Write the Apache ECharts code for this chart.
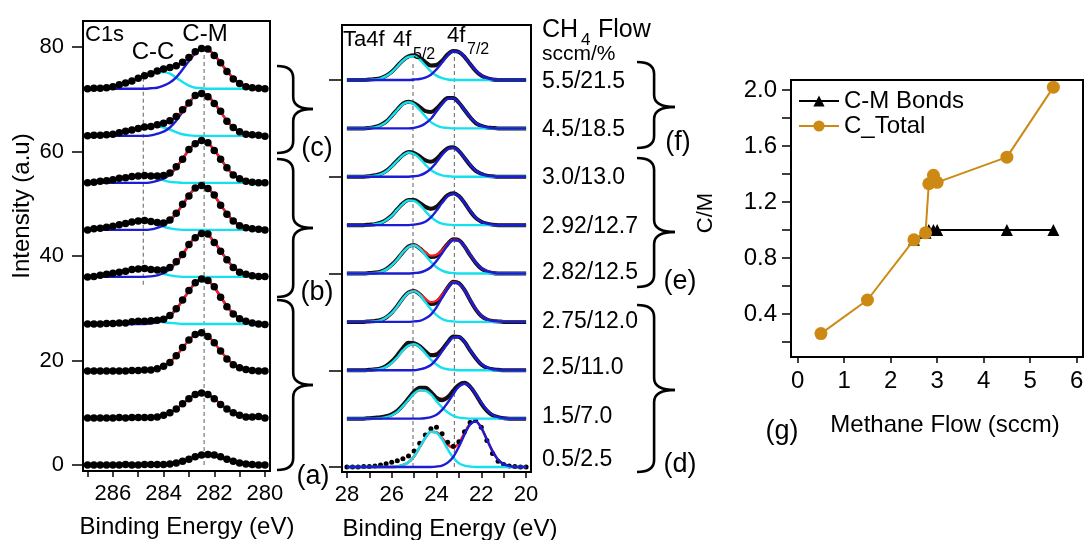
<!DOCTYPE html>
<html>
<head>
<meta charset="utf-8">
<script src="https://cdn.jsdelivr.net/npm/echarts@6.0.0/dist/echarts.min.js"></script>
<style>
html,body{margin:0;padding:0;background:#fff;}
#chart{width:1084px;height:540px;}
</style>
</head>
<body>
<div id="chart"></div>
<script>
// ---------------- DATA ----------------
// C1s panel: binding energy grid (eV)
const c1sEnergy = [287,286.75,286.5,286.25,286,285.75,285.5,285.25,285,284.75,284.5,284.25,284,283.75,283.5,283.25,283,282.75,282.5,282.25,282,281.75,281.5,281.25,281,280.75,280.5,280.25,280];
// vertical stacking offset of each C1s spectrum (top to bottom)
const c1sOffset = [72,63,54,45,36,27,18,9,0];
// measured C1s points (intensity above each baseline)
const c1sData = [
 [0.0,0.1,0.1,0.2,0.4,0.8,1.1,1.5,2.0,2.5,2.9,3.4,3.8,4.1,4.4,5.1,6.0,7.1,7.7,7.6,6.4,5.0,3.3,1.9,1.0,0.4,0.2,0.1,0.0],
 [0.0,0.1,0.1,0.2,0.3,0.6,0.9,1.1,1.4,1.7,1.8,2.1,2.4,2.9,3.7,5.0,6.3,7.7,8.1,7.5,6.2,4.7,2.8,1.6,0.8,0.3,0.2,0.1,-0.1],
 [0.0,0.1,0.3,0.4,0.6,0.9,1.0,1.2,1.3,1.4,1.3,1.3,1.4,1.9,3.1,4.5,6.4,7.5,8.1,7.7,6.2,4.5,2.9,1.5,0.8,0.3,0.1,0.0,0.0],
 [0.0,0.2,0.3,0.5,0.7,1.0,1.2,1.5,1.7,1.8,1.6,1.4,1.3,1.9,3.2,4.9,6.5,8.0,8.5,7.9,6.7,4.7,3.0,1.7,0.8,0.4,0.2,0.1,0.0],
 [0.0,0.1,0.3,0.5,0.7,0.9,1.1,1.4,1.5,1.6,1.4,1.3,1.3,1.8,2.9,4.3,6.2,7.5,8.3,8.2,6.6,4.9,3.3,1.8,0.9,0.5,0.2,0.1,0.1],
 [0.0,0.0,0.0,0.1,0.1,0.2,0.2,0.4,0.5,0.5,0.6,0.7,0.9,1.6,2.9,4.6,6.4,7.9,8.6,8.3,7.1,5.1,3.3,1.9,1.0,0.5,0.2,0.0,-0.1],
 [0,0,0,0,0,0,0,0.1,0.1,0.2,0.2,0.4,0.9,1.6,2.9,4.5,5.9,7.0,7.3,6.6,5.4,3.8,2.3,1.2,0.6,0.3,0.1,0.0,0.0],
 [0,0,0,0,0,0.1,0,0.1,0.1,0.1,0.1,0.2,0.5,1.0,1.7,2.7,3.7,4.5,4.8,4.5,3.7,2.6,1.7,1.0,0.5,0.2,0.2,0.3,0.0],
 [0,0,0,0,0,0,0.1,0,0,0.1,0.1,0.1,0.1,0.2,0.4,0.7,1.1,1.6,1.9,2.0,1.9,1.6,1.1,0.7,0.4,0.2,0.1,0.0,0.0]
];
// C-M (carbide) fit component, every spectrum
const c1sCM = [
 [0,0,0,0,0,0,0,0,0,0,0.1,0.2,0.6,1.2,2.2,3.7,5.3,6.8,7.6,7.5,6.5,5.0,3.4,2.0,1.0,0.5,0.2,0.1,0],
 [0,0,0,0,0,0,0,0,0,0,0.1,0.4,0.8,1.6,2.9,4.6,6.3,7.6,8.1,7.6,6.3,4.6,2.9,1.6,0.8,0.4,0.1,0,0],
 [0,0,0,0,0,0,0,0,0,0,0.1,0.4,0.8,1.6,2.9,4.6,6.3,7.6,8.1,7.6,6.3,4.6,2.9,1.6,0.8,0.4,0.1,0,0],
 [0,0,0,0,0,0,0,0,0,0,0.1,0.4,0.9,1.7,3.1,4.8,6.6,8.0,8.5,8.0,6.6,4.8,3.1,1.7,0.9,0.4,0.1,0,0],
 [0,0,0,0,0,0,0,0,0,0,0.1,0.3,0.7,1.5,2.7,4.3,6.1,7.6,8.3,8.0,6.7,5.0,3.3,1.9,1.0,0.4,0.2,0.1,0],
 [0,0,0,0,0,0,0,0,0,0,0.1,0.3,0.7,1.5,2.8,4.5,6.3,7.8,8.6,8.3,7.0,5.2,3.4,2.0,1.0,0.4,0.2,0.1,0],
 [0,0,0,0,0,0,0,0,0,0,0.2,0.4,0.9,1.7,2.9,4.4,5.9,7.0,7.3,6.7,5.4,3.8,2.4,1.3,0.6,0.3,0.1,0,0],
 [0,0,0,0,0,0,0,0,0,0,0.1,0.2,0.5,1.0,1.7,2.7,3.7,4.5,4.8,4.5,3.7,2.7,1.7,1.0,0.5,0.2,0.1,0,0],
 [0,0,0,0,0,0,0,0,0,0,0,0,0.1,0.2,0.4,0.7,1.1,1.6,1.9,2.0,1.9,1.6,1.1,0.7,0.4,0.2,0.1,0,0]
];
// C-C fit component, top six spectra
const c1sCC = [
 [0.0,0.1,0.1,0.3,0.4,0.7,1.0,1.5,1.9,2.4,2.8,3.1,3.2,2.9,2.1,1.3,0.6,0.2,0.1,0,0,0,0,0,0,0,0,0,0],
 [0,0.1,0.1,0.2,0.4,0.6,0.8,1.1,1.4,1.6,1.7,1.8,1.6,1.2,0.7,0.3,0.1,0,0,0,0,0,0,0,0,0,0,0,0],
 [0.1,0.2,0.3,0.4,0.6,0.8,1.0,1.1,1.3,1.3,1.2,0.9,0.5,0.2,0.1,0,0,0,0,0,0,0,0,0,0,0,0,0,0],
 [0.1,0.2,0.3,0.5,0.7,1.0,1.2,1.4,1.6,1.6,1.4,1.1,0.6,0.3,0.1,0,0,0,0,0,0,0,0,0,0,0,0,0,0],
 [0.1,0.2,0.3,0.5,0.7,0.9,1.1,1.3,1.5,1.5,1.4,1.0,0.6,0.3,0.1,0,0,0,0,0,0,0,0,0,0,0,0,0,0],
 [0,0,0.1,0.1,0.2,0.2,0.3,0.4,0.4,0.5,0.5,0.5,0.3,0.2,0.1,0,0,0,0,0,0,0,0,0,0,0,0,0,0]
];
const c1sRefEnergy = [282.4, 284.8];           // C-M, C-C reference lines
const c1sRefSpan = [[0, 80], [34.5, 75.3]];
const c1sTickEnergy = [280,281,282,283,284,285,286,287];
const c1sLabelEnergy = [280,282,284,286];
const c1sIntensityTicks = [0,20,40,60,80];

// Ta4f panel
const taEnergy = [28,27.75,27.5,27.25,27,26.75,26.5,26.25,26,25.75,25.5,25.25,25,24.75,24.5,24.25,24,23.75,23.5,23.25,23,22.75,22.5,22.25,22,21.75,21.5,21.25,21,20.75,20.5,20.25,20];
const taOffset = [80,70,60,50,40,30,20,10,0];
const flowLabels = ['5.5/21.5','4.5/18.5','3.0/13.0','2.92/12.7','2.82/12.5','2.75/12.0','2.5/11.0','1.5/7.0','0.5/2.5'];
const taData = [
 [0,0,0,0,0.1,0.2,0.4,0.9,1.7,2.9,4.1,4.9,5.1,4.6,3.7,3.0,3.1,4.0,5.3,6.0,5.8,4.8,3.3,1.9,0.9,0.4,0.1,0,0,0,0,0,0],
 [0,0,0,0,0.1,0.3,0.7,1.4,2.6,3.9,5.1,5.5,5.2,4.4,3.6,3.4,4.1,5.3,6.3,6.3,5.3,3.8,2.3,1.1,0.5,0.2,0.1,0,0,0,0,0,0],
 [0,0,0,0,0.1,0.3,0.6,1.2,2.2,3.4,4.5,5.1,4.9,4.2,3.4,3.1,3.7,4.9,5.9,6.1,5.3,3.9,2.4,1.2,0.6,0.2,0.1,0,0,0,0,0,0],
 [0,0,0,0,0.1,0.2,0.5,1.1,2.0,3.3,4.5,5.2,5.2,4.6,3.8,3.4,3.8,5.0,6.2,6.6,6.0,4.6,2.9,1.5,0.7,0.3,0.1,0,0,0,0,0,0],
 [0,0,0,0,0.1,0.2,0.4,0.9,1.8,3.0,4.4,5.6,5.9,5.2,4.2,3.4,3.6,4.7,6.1,7.1,6.9,5.6,3.8,2.2,1.0,0.4,0.1,0,0,0,0,0,0],
 [0,0,0,0,0.1,0.2,0.4,0.9,1.9,3.3,4.9,6.1,6.4,5.7,4.5,3.7,4.0,5.4,7.1,8.3,8.0,6.6,4.5,2.6,1.2,0.5,0.2,0.1,0,0,0,0,0],
 [0,0,0,0,0.1,0.2,0.4,0.9,1.8,3.1,4.6,5.7,5.6,5.0,3.9,3.1,3.2,4.3,5.8,7.0,6.9,5.9,4.1,2.5,1.2,0.5,0.2,0.1,0,0,0,0,0],
 [0,0,0,0,0.1,0.2,0.3,0.5,0.9,1.6,2.8,4.2,5.6,6.4,6.4,5.5,4.3,3.8,4.4,5.8,7.0,7.4,6.6,5.0,3.1,1.6,0.7,0.3,0.1,0,0,0,0],
 [0,0,0,0.1,0.1,0.2,0.4,0.7,1.0,1.3,1.7,2.3,3.3,4.9,6.6,7.9,8.2,6.9,5.1,4.3,5.2,7.3,9.2,9.6,8.2,5.5,2.8,1.2,0.5,0.2,0.1,0,0]
];
// 4f5/2 component
const ta4f52 = [
 [0,0,0,0,0,0.1,0.3,0.8,1.6,2.8,4.0,4.8,4.9,4.2,3.0,1.8,0.9,0.4,0.1,0,0,0,0,0,0,0,0,0,0,0,0,0,0],
 [0,0,0,0,0.1,0.2,0.6,1.3,2.5,3.8,5.0,5.4,5.0,3.8,2.5,1.3,0.6,0.2,0.1,0,0,0,0,0,0,0,0,0,0,0,0,0,0],
 [0,0,0,0,0.1,0.2,0.5,1.1,2.1,3.3,4.4,5.0,4.7,3.8,2.5,1.4,0.7,0.3,0.1,0,0,0,0,0,0,0,0,0,0,0,0,0,0],
 [0,0,0,0,0,0.2,0.4,1.0,1.9,3.2,4.4,5.1,5.0,4.2,2.9,1.7,0.8,0.3,0.1,0,0,0,0,0,0,0,0,0,0,0,0,0,0],
 [0,0,0,0,0,0.1,0.3,0.8,1.7,2.9,4.4,5.5,5.8,5.1,3.8,2.4,1.3,0.6,0.2,0.1,0,0,0,0,0,0,0,0,0,0,0,0,0],
 [0,0,0,0,0,0.1,0.3,0.9,1.8,3.2,4.8,6.0,6.3,5.6,4.1,2.6,1.4,0.6,0.2,0.1,0,0,0,0,0,0,0,0,0,0,0,0,0],
 [0,0,0,0,0,0.1,0.3,0.7,1.5,2.7,4.1,5.1,5.4,4.8,3.5,2.2,1.2,0.5,0.2,0.1,0,0,0,0,0,0,0,0,0,0,0,0,0],
 [0,0,0,0,0,0,0.1,0.3,0.7,1.4,2.6,3.9,5.2,5.9,5.8,5.0,3.6,2.3,1.3,0.6,0.2,0.1,0,0,0,0,0,0,0,0,0,0,0],
 [0,0,0,0,0,0,0,0,0,0.1,0.4,1.0,2.2,4.1,6.0,7.3,7.1,5.7,3.7,1.9,0.8,0.3,0.1,0,0,0,0,0,0,0,0,0,0]
];
// 4f7/2 component
const ta4f72 = [
 [0,0,0,0,0,0,0,0,0,0,0,0,0.1,0.2,0.5,1.1,2.2,3.6,5.1,5.9,5.8,4.8,3.3,2.0,1.0,0.4,0.1,0,0,0,0,0,0],
 [0,0,0,0,0,0,0,0,0,0,0,0,0.1,0.4,1.0,2.0,3.5,5.0,6.1,6.2,5.3,3.8,2.3,1.2,0.5,0.2,0.1,0,0,0,0,0,0],
 [0,0,0,0,0,0,0,0,0,0,0,0,0.1,0.3,0.8,1.7,3.0,4.5,5.7,6.0,5.3,3.9,2.5,1.3,0.6,0.2,0.1,0,0,0,0,0,0],
 [0,0,0,0,0,0,0,0,0,0,0,0,0.1,0.3,0.7,1.6,3.0,4.6,6.0,6.5,6.0,4.6,3.0,1.6,0.7,0.3,0.1,0,0,0,0,0,0],
 [0,0,0,0,0,0,0,0,0,0,0,0,0.1,0.2,0.6,1.3,2.6,4.2,5.9,6.9,6.8,5.6,3.9,2.3,1.1,0.5,0.2,0,0,0,0,0,0],
 [0,0,0,0,0,0,0,0,0,0,0,0,0.1,0.2,0.7,1.5,3.0,5.0,6.9,8.1,7.9,6.6,4.6,2.7,1.3,0.5,0.2,0.1,0,0,0,0,0],
 [0,0,0,0,0,0,0,0,0,0,0,0,0,0.2,0.5,1.1,2.3,3.9,5.6,6.8,6.9,5.9,4.2,2.6,1.3,0.6,0.2,0.1,0,0,0,0,0],
 [0,0,0,0,0,0,0,0,0,0,0,0,0,0,0.1,0.3,0.8,1.8,3.3,5.1,6.6,7.2,6.6,5.1,3.3,1.8,0.8,0.3,0.1,0,0,0,0],
 [0,0,0,0,0,0,0,0,0,0,0,0,0,0,0,0,0.1,0.3,0.9,2.1,4.2,6.7,8.8,9.4,8.1,5.7,3.3,1.5,0.6,0.2,0,0,0]
];
const taRefEnergy = [25.05, 23.2];
const taRefSpan = [[0, 83.5], [0, 85.5]];
const taTickEnergy = [20,21,22,23,24,25,26,27,28];
const taLabelEnergy = [20,22,24,26,28];
const taIntensityTicks = [0,20,40,60,80];

// Panel (g)
const methaneFlow = [0.5,1.5,2.5,2.75,2.82,2.92,3.0,4.5,5.5];
const cmBonds     = [null,null,0.93,0.98,1.00,1.00,1.00,1.00,1.00];
const cTotal      = [0.26,0.50,0.93,0.98,1.33,1.39,1.34,1.52,2.02];
const gXTicks = [0,1,2,3,4,5,6];
const gYTicks = [0.2,0.4,0.6,0.8,1.0,1.2,1.4,1.6,1.8,2.0];
const gYLabels = [0.4,0.8,1.2,1.6,2.0];

// ---------------- STYLE / LAYOUT ----------------
const FONT = "'Liberation Sans', Arial, Helvetica, sans-serif";
const CYAN = '#14E0EE', BLUE = '#1C1CD4', RED = '#FF1E1E', ORANGE = '#CC8A14';
const dotOnlySpectra = [false,false,false,false,false,false,false,false,true];
const redOnTopSpectra = [false,false,false,false,true,true,false,false,false];

const chart = echarts.init(document.getElementById('chart'), null, {renderer:'canvas'});

function xAx(grid, min, max, ticks, labels, inverse, fs, margin) {
  return {gridIndex:grid, type:'value', min, max, inverse,
    axisLine:{show:true, onZero:false, lineStyle:{color:'#000', width:2}},
    axisTick:{show:true, inside:false, length:6, customValues:ticks, lineStyle:{color:'#000', width:1.5}},
    axisLabel:{show:true, customValues:labels, fontSize:fs, fontFamily:FONT, color:'#000', margin},
    splitLine:{show:false}};
}
function yAx(grid, min, max, ticks, labels, tickLen, fs, margin, fmt) {
  const ax = {gridIndex:grid, type:'value', min, max,
    axisLine:{show:true, onZero:false, lineStyle:{color:'#000', width:2}},
    axisTick:{show:true, inside:false, length:tickLen, customValues:ticks, lineStyle:{color:'#000', width:1.5}},
    axisLabel:{show: labels.length>0, customValues:labels.length ? labels : ticks, fontSize:fs, fontFamily:FONT, color:'#000', margin},
    splitLine:{show:false}};
  if (fmt) ax.axisLabel.formatter = fmt;
  return ax;
}
function curve(g, xs, vals, off, color, width, z) {
  return {type:'line', xAxisIndex:g, yAxisIndex:g, data: xs.map((x,j)=>[x, off + vals[j]]),
    symbol:'none', smooth:0.35, lineStyle:{color, width}, silent:true, z: z||2};
}
function dots(g, xs, vals, off, size, z) {
  return {type:'scatter', xAxisIndex:g, yAxisIndex:g, data: xs.map((x,j)=>[x, off + vals[j]]),
    symbol:'circle', symbolSize:size, itemStyle:{color:'#000', opacity:1}, silent:true, z: z||3};
}

const series = [];
// reference dashed lines
c1sRefEnergy.forEach((e,k)=>series.push({type:'line', xAxisIndex:0, yAxisIndex:0,
  data:[[e,c1sRefSpan[k][0]],[e,c1sRefSpan[k][1]]], symbol:'none', silent:true, z:1,
  lineStyle:{color:'#7a7a7a', width:1.2, type:[4,3]}}));
taRefEnergy.forEach((e,k)=>series.push({type:'line', xAxisIndex:1, yAxisIndex:1,
  data:[[e,taRefSpan[k][0]],[e,taRefSpan[k][1]]], symbol:'none', silent:true, z:1,
  lineStyle:{color:'#7a7a7a', width:1.2, type:[4,3]}}));

// C1s
c1sCC.forEach((cc,s)=>series.push(curve(0, c1sEnergy, cc, c1sOffset[s], CYAN, 2.4, 2)));
c1sCC.forEach((cc,s)=>series.push(curve(0, c1sEnergy, c1sCM[s], c1sOffset[s], BLUE, 2.4, 2)));
c1sCM.forEach((cm,s)=>{
  const fit = cm.map((v,j)=> v + (c1sCC[s] ? c1sCC[s][j] : 0));
  series.push(curve(0, c1sEnergy, fit, c1sOffset[s], RED, 2.4, 3));
});
c1sData.forEach((d,s)=>series.push(dots(0, c1sEnergy, d, c1sOffset[s], 7.5, 4)));

// Ta4f
ta4f52.forEach((c,s)=>{
  const fit = c.map((v,i)=> v + ta4f72[s][i]);
  series.push(curve(1, taEnergy, fit, taOffset[s], RED, redOnTopSpectra[s] ? 2.2 : 2.6, redOnTopSpectra[s] ? 4 : 2));
});
taData.forEach((d,s)=>{
  if (dotOnlySpectra[s]) series.push(dots(1, taEnergy, d, taOffset[s], 5, 3));
  else series.push(curve(1, taEnergy, d, taOffset[s], '#111', 4, 3));
});
ta4f52.forEach((c,s)=>series.push(curve(1, taEnergy, c, taOffset[s], CYAN, 2.4, 5)));
ta4f72.forEach((b,s)=>series.push(curve(1, taEnergy, b, taOffset[s], BLUE, 2.4, 6)));

// (g)
series.push({name:'C-M Bonds', type:'line', xAxisIndex:2, yAxisIndex:2,
  data: methaneFlow.map((x,i)=>[x, cmBonds[i]]), symbol:'triangle', symbolSize:12,
  itemStyle:{color:'#000'}, lineStyle:{color:'#000', width:2}, z:3});
series.push({name:'C_Total', type:'line', xAxisIndex:2, yAxisIndex:2,
  data: methaneFlow.map((x,i)=>[x, cTotal[i]]), symbol:'circle', symbolSize:13,
  itemStyle:{color:ORANGE}, lineStyle:{color:ORANGE, width:2}, z:4});

// annotation texts
function txt(text, x, y, size, align, rot) {
  const el = {type:'text', x, y, silent:true, z:10,
    style:{text, fontSize:size, fontFamily:FONT, fill:'#000', align:align||'left', textAlign:align||'left',
      verticalAlign:'middle', textVerticalAlign:'middle'}};
  if (rot) el.rotation = rot;
  return el;
}
const BSTYLE = {stroke:'#000', lineWidth:2.6, fill:null};
function brace(x0, y1, y2, ym, w) {
  const xs = x0 + w*0.45, xt = x0 + w, r = 12;
  const seg = (a,b,c,d,cx,cy)=>({type:'bezierCurve', silent:true, z:10,
     shape:{x1:a,y1:b,x2:c,y2:d,cpx1:cx,cpy1:cy}, style:BSTYLE});
  const ln = (a,b,c,d)=>({type:'line', silent:true, z:10, shape:{x1:a,y1:b,x2:c,y2:d}, style:BSTYLE});
  return [
    seg(x0,y1, xs,y1+r, xs,y1),
    ln(xs,y1+r, xs,ym-r),
    seg(xs,ym-r, xt,ym, xs,ym),
    seg(xt,ym, xs,ym+r, xs,ym),
    ln(xs,ym+r, xs,y2-r),
    seg(xs,y2-r, x0,y2, xs,y2)
  ];
}
const rowLabelY = [82,130,178,227,273,322,368,417,460];
const graphics = [
  txt('Intensity (a.u)', 22, 206, 24, 'center', Math.PI/2),
  txt('Binding Energy (eV)', 187, 527, 24, 'center'),
  txt('Binding Energy (eV)', 450, 529, 24, 'center'),
  txt('C1s', 85, 35, 22),
  txt('C-C', 153, 52, 24, 'center'),
  txt('C-M', 205, 34, 24, 'center'),
  txt('Ta4f', 343, 40, 22),
  txt('4f', 393, 40, 22),
  txt('5/2', 413, 55, 16),
  txt('4f', 447, 36, 22),
  txt('7/2', 467, 50, 16),
  txt('CH', 542, 30, 25),
  txt('4', 581, 40, 17),
  txt('Flow', 598, 30, 25),
  txt('sccm/%', 542, 54, 21),
  txt('(c)', 317, 149, 27, 'center'),
  txt('(b)', 317, 293, 27, 'center'),
  txt('(a)', 313, 477, 27, 'center'),
  txt('(f)', 678, 143, 27, 'center'),
  txt('(e)', 680, 282, 27, 'center'),
  txt('(d)', 680, 465, 27, 'center'),
  txt('C/M', 706, 213, 22, 'center', Math.PI/2),
  txt('Methane Flow (sccm)', 945, 425, 24, 'center'),
  txt('(g)', 782, 432, 27, 'center')
].concat(
  brace(277, 66, 153, 109, 36),
  brace(277, 159, 297, 228, 36),
  brace(277, 300, 470, 385, 36),
  brace(637, 62, 148, 107, 38),
  brace(637, 158, 287, 232, 38),
  brace(637, 305, 472, 390, 38)
);
flowLabels.forEach((t,s)=>graphics.push(txt(t, 542, rowLabelY[s], 23)));

const option = {
  animation:false,
  backgroundColor:'#fff',
  textStyle:{fontFamily:FONT},
  grid:[
    {left:83, top:21, width:187, height:450, show:true, borderColor:'#000', borderWidth:2, containLabel:false, outerBoundsMode:'none'},
    {left:342, top:25, width:189, height:447, show:true, borderColor:'#000', borderWidth:2, containLabel:false, outerBoundsMode:'none'},
    {left:791, top:80, width:292, height:277, show:true, borderColor:'#000', borderWidth:2, containLabel:false, outerBoundsMode:'none'}
  ],
  xAxis:[
    xAx(0, 279.8, 287.18, c1sTickEnergy, c1sLabelEnergy, true, 22, 12),
    xAx(1, 19.78, 28.22, taTickEnergy, taLabelEnergy, true, 22, 12),
    xAx(2, -0.144, 6.137, gXTicks, gXTicks, false, 24, 12)
  ],
  yAxis:[
    yAx(0, -1.15, 84.98, c1sIntensityTicks, c1sIntensityTicks, 11, 22, 19),
    yAx(1, -1.03, 91.37, taIntensityTicks, [], 13, 22, 10),
    yAx(2, 0.093, 2.071, gYTicks, gYLabels, 9, 24, 14, v=>Number(v).toFixed(1))
  ],
  legend:{data:['C-M Bonds','C_Total'], left:793, top:84, orient:'vertical', itemGap:1,
    itemWidth:40, itemHeight:14, textStyle:{fontSize:24, color:'#000', fontFamily:FONT}, selectedMode:false},
  graphic: graphics,
  series
};
chart.setOption(option);
</script>
</body>
</html>
